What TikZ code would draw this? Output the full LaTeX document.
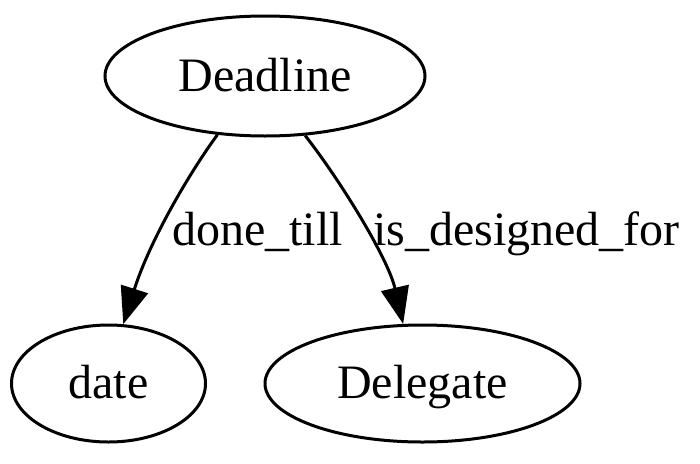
\documentclass[tikz,border=0pt]{standalone}
\usepackage{fontspec}
\setmainfont{Liberation Serif}
\usetikzlibrary{shapes.geometric,arrows.meta}
\begin{document}
\begin{tikzpicture}[x=1pt,y=-1pt,
  nodebox/.style={draw,ellipse,line width=3pt,inner sep=0pt,
    text height=33pt,text depth=3pt,
    font=\fontsize{48}{58}\selectfont},
  edge/.style={line width=3pt,-{Triangle[length=37pt,width=28pt]}},
  elabel/.style={anchor=base west,inner sep=0pt,font=\fontsize{48}{58}\selectfont}]
\useasboundingbox (0,0) rectangle (700,463);
\node[nodebox,minimum width=320pt,minimum height=120pt] (deadline) at (265,76) {Deadline};
\node[nodebox,minimum width=194pt,minimum height=117pt] (date) at (108.5,383.5) {date};
\node[nodebox,minimum width=315pt,minimum height=117pt] (delegate) at (422.5,383.5) {Delegate};
\draw[edge] (deadline.-129) .. controls (190,172) and (150,240) .. (date.76);
\draw[edge] (deadline.-56) .. controls (340,180) and (388,258) .. (delegate.108);
\node[elabel] (l1) at (172,245) {done\_till};
\node[elabel] (l2) at (373,245) {is\_designed\_for};
\end{tikzpicture}
\end{document}
